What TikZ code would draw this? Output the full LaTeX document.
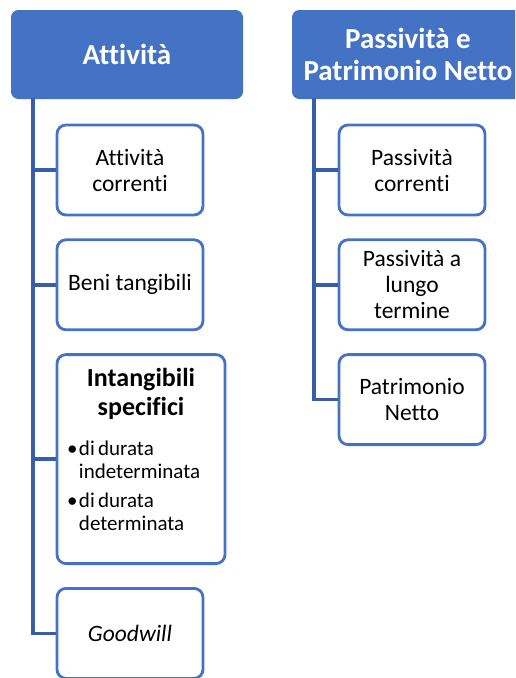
\documentclass[tikz,border=0pt]{standalone}
\usepackage{fontspec}
\setmainfont{Carlito}[Ligatures=NoCommon]
\usetikzlibrary{positioning}
\definecolor{smartblue}{HTML}{4472C4}
\definecolor{linkblue}{HTML}{3A5DA8}

\begin{document}
\begin{tikzpicture}
[
  x=1pt, y=-1pt,
  head/.style = {draw=smartblue, fill=smartblue, rounded corners=7pt, line width=1pt,
    minimum width=231pt, minimum height=88pt, text=white, align=center,
    font=\fontsize{29}{32}\selectfont\bfseries},
  leaf/.style = {draw=smartblue, fill=white, rounded corners=9pt, line width=2.8pt,
    minimum width=146pt, minimum height=90pt, align=center,
    font=\fontsize{23.5}{26}\selectfont},
  link/.style = {draw=linkblue, line width=3.4pt},
]
\def\gap{22pt}

\clip (0,0) rectangle (515,678);

\coordinate (tA) at (33,98); %top of left trunk
\coordinate (tP) at (314,98); %top of right trunk

%left column
\node[head] (att) at (127,54.5) {Attivit\`a};
\node[leaf] (ac) at (130,170) {Attivit\`a\\correnti};
\node[leaf, below=\gap of ac] (bt) {Beni tangibili};
\node[leaf, minimum width=168pt, minimum height=209pt,
  below right=\gap and 0pt of bt.south west] (intang) {};
\node[leaf, below right=\gap and 0pt of intang.south west] (gw) {\itshape Goodwill};

%text of intangibili
\node[anchor=north, inner sep=0pt, text width=150pt] (intangtxt)
  at ([yshift=-15pt]intang.north)
{%
  {\centering\fontsize{26}{29}\selectfont\bfseries Intangibili\\specifici\par}
  \vspace{17pt}
  \fontsize{21}{23}\selectfont\raggedright
  \noindent\hspace*{1pt}\makebox[12pt][l]{\textbullet}%
  \parbox[t]{130pt}{di durata\\indeterminata}\par
  \vspace{13pt}
  \noindent\hspace*{1pt}\makebox[12pt][l]{\textbullet}%
  \parbox[t]{130pt}{di durata\\determinata}\par
};

%right column
\node[head] (pas) at (408,54.5) {Passivit\`a e\\Patrimonio Netto};
\node[leaf] (pc) at (412,170) {Passivit\`a\\correnti};
\node[leaf, below=\gap of pc] (pl) {Passivit\`a a\\lungo\\termine};
\node[leaf, below=\gap of pl] (pn) {Patrimonio\\Netto};

%trunks
\foreach \leaf in {ac,bt,intang,gw}
  \draw[link] (tA) |- (\leaf.west);
\foreach \leaf in {pc,pl,pn}
  \draw[link] (tP) |- (\leaf.west);
\end{tikzpicture}
\end{document}
